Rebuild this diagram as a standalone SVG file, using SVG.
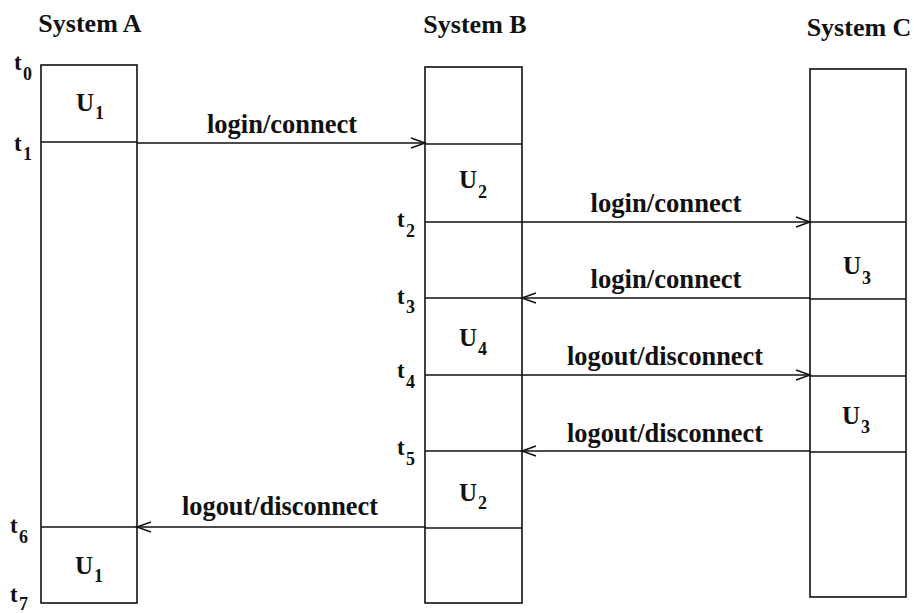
<svg xmlns="http://www.w3.org/2000/svg" width="914" height="613" viewBox="0 0 914 613">
  <style>
    text { font-family: "Liberation Serif", "Times New Roman", "DejaVu Serif", serif; font-weight: bold; fill: #111; }
    .box { fill: #fff; stroke: #111; stroke-width: 1.6; }
    .div { stroke: #111; stroke-width: 1.6; }
    .msg { stroke: #111; stroke-width: 1.5; fill: none; marker-end: url(#chev); }
    .hdr { font-size: 26px; text-anchor: middle; }
    .lbl { font-size: 28px; text-anchor: middle; }
    .tk { font-size: 23px; }
    .tks { font-size: 18px; }
    .us { font-size: 25px; }
    .uss { font-size: 18px; }
  </style>
  <defs>
    <marker id="chev" markerUnits="userSpaceOnUse" markerWidth="18" markerHeight="14" refX="15" refY="6" orient="auto">
      <path d="M1,1 L15,6 L1,11" fill="none" stroke="#111" stroke-width="1.5"/>
    </marker>
  </defs>

  <!-- System A -->
  <g id="systemA">
    <text class="hdr" x="90" y="32">System A</text>
    <rect class="box" x="41" y="65" width="96" height="538"/>
    <line class="div" x1="41" y1="142" x2="137" y2="142"/>
    <line class="div" x1="41" y1="527" x2="137" y2="527"/>
    <text class="us" x="76" y="111">U<tspan class="uss" x="95" y="119">1</tspan></text>
    <text class="us" x="75" y="574">U<tspan class="uss" x="94" y="582">1</tspan></text>
    <text class="tk" x="14" y="70">t<tspan class="tks" x="23" y="80">0</tspan></text>
    <text class="tk" x="14" y="151">t<tspan class="tks" x="23" y="160">1</tspan></text>
    <text class="tk" x="10" y="533">t<tspan class="tks" x="19" y="543">6</tspan></text>
    <text class="tk" x="10" y="602">t<tspan class="tks" x="19" y="610">7</tspan></text>
  </g>

  <!-- System B -->
  <g id="systemB">
    <text class="hdr" x="475" y="33">System B</text>
    <rect class="box" x="425" y="67" width="97" height="536"/>
    <line class="div" x1="425" y1="144" x2="522" y2="144"/>
    <line class="div" x1="425" y1="222" x2="522" y2="222"/>
    <line class="div" x1="425" y1="298" x2="522" y2="298"/>
    <line class="div" x1="425" y1="375" x2="522" y2="375"/>
    <line class="div" x1="425" y1="451" x2="522" y2="451"/>
    <line class="div" x1="425" y1="528" x2="522" y2="528"/>
    <text class="us" x="459" y="188">U<tspan class="uss" x="478" y="198">2</tspan></text>
    <text class="us" x="459" y="346">U<tspan class="uss" x="478" y="355">4</tspan></text>
    <text class="us" x="459" y="501">U<tspan class="uss" x="478" y="509">2</tspan></text>
    <text class="tk" x="397" y="227">t<tspan class="tks" x="406" y="237">2</tspan></text>
    <text class="tk" x="397" y="304">t<tspan class="tks" x="406" y="313">3</tspan></text>
    <text class="tk" x="397" y="378">t<tspan class="tks" x="406" y="388">4</tspan></text>
    <text class="tk" x="397" y="455">t<tspan class="tks" x="406" y="465">5</tspan></text>
  </g>

  <!-- System C -->
  <g id="systemC">
    <text class="hdr" x="859" y="36">System C</text>
    <rect class="box" x="810" y="69" width="96" height="528"/>
    <line class="div" x1="810" y1="222" x2="906" y2="222"/>
    <line class="div" x1="810" y1="299" x2="906" y2="299"/>
    <line class="div" x1="810" y1="376" x2="906" y2="376"/>
    <line class="div" x1="810" y1="452" x2="906" y2="452"/>
    <text class="us" x="843" y="274">U<tspan class="uss" x="862" y="284">3</tspan></text>
    <text class="us" x="842" y="424">U<tspan class="uss" x="861" y="433">3</tspan></text>
  </g>

  <!-- Messages between systems -->
  <g id="connectors">
    <line class="msg" x1="137" y1="143" x2="425" y2="143"/>
    <line class="msg" x1="522" y1="222" x2="810" y2="222"/>
    <line class="msg" x1="810" y1="298" x2="522" y2="298"/>
    <line class="msg" x1="522" y1="375" x2="810" y2="375"/>
    <line class="msg" x1="810" y1="451" x2="522" y2="451"/>
    <line class="msg" x1="425" y1="527" x2="137" y2="527"/>
    <text class="lbl" x="282" y="133" textLength="150" lengthAdjust="spacingAndGlyphs">login/connect</text>
    <text class="lbl" x="666" y="212" textLength="151" lengthAdjust="spacingAndGlyphs">login/connect</text>
    <text class="lbl" x="666" y="288" textLength="151" lengthAdjust="spacingAndGlyphs">login/connect</text>
    <text class="lbl" x="665" y="365" textLength="196" lengthAdjust="spacingAndGlyphs">logout/disconnect</text>
    <text class="lbl" x="665" y="442" textLength="196" lengthAdjust="spacingAndGlyphs">logout/disconnect</text>
    <text class="lbl" x="280" y="515" textLength="196" lengthAdjust="spacingAndGlyphs">logout/disconnect</text>
  </g>
</svg>
